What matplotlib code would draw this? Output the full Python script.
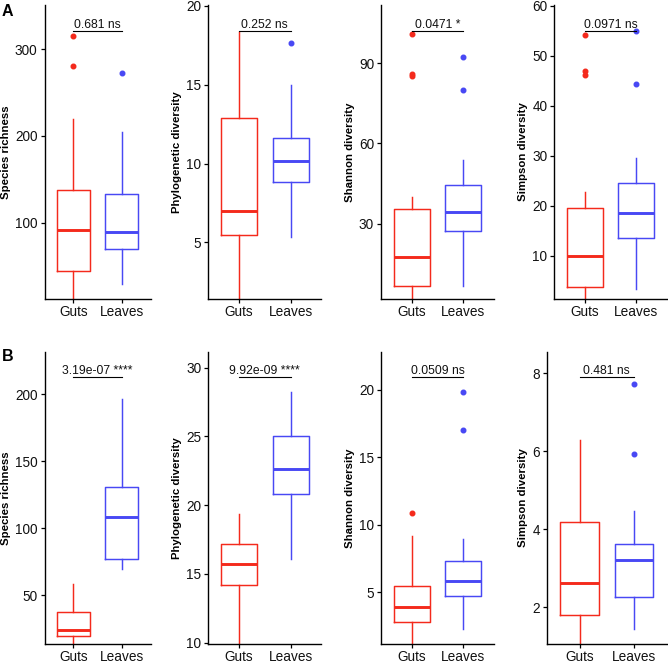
import matplotlib
matplotlib.use("Agg")
import matplotlib.pyplot as plt

plt.rcParams['font.family'] = ['Liberation Sans', 'DejaVu Sans']

# ---------------- data ----------------
metrics = ["Species richness", "Phylogenetic diversity", "Shannon diversity", "Simpson diversity"]
groups = ["Guts", "Leaves"]

# five-number summaries: [whisker low, q1, median, q3, whisker high]
a_guts = [[5, 45, 92, 138, 219],
          [1.0, 5.48, 6.98, 12.9, 18.34],
          [1.0, 6.7, 17.65, 35.4, 40.1],
          [1.0, 3.8, 9.9, 19.6, 22.7]]
a_guts_out = [[315, 281], [], [101.1, 85.9, 85.4], [54.2, 47.0, 46.1]]
a_leaves = [[30, 70, 90, 133, 204.6],
            [5.32, 8.82, 10.19, 11.6, 14.98],
            [6.8, 27.4, 34.5, 44.4, 53.8],
            [3.3, 13.6, 18.5, 24.5, 29.5]]
a_leaves_out = [[272.8], [17.68], [92.2, 80.0], [54.9, 44.4]]
a_pvals = ["0.681 ns", "0.252 ns", "0.0471 *", "0.0971 ns"]
a_bracket = [320.7, 18.42, 102.1, 54.9]

b_guts = [[5, 19.6, 23.8, 37.5, 58],
          [8, 14.2, 15.7, 17.2, 19.35],
          [0.5, 2.8, 3.9, 5.48, 9.13],
          [0.5, 1.79, 2.62, 4.18, 6.29]]
b_guts_out = [[], [], [10.9], []]
b_leaves = [[69.2, 77, 108, 131, 196.3],
            [16.1, 20.84, 22.6, 25.05, 28.2],
            [2.3, 4.75, 5.87, 7.3, 8.96],
            [1.45, 2.26, 3.21, 3.62, 4.47]]
b_leaves_out = [[], [], [19.83, 17.04], [7.72, 5.93]]
b_pvals = ["3.19e-07 ****", "9.92e-09 ****", "0.0509 ns", "0.481 ns"]
b_bracket = [212.7, 29.3, 20.9, 7.9]

a_ticks = [[100, 200, 300], [5, 10, 15, 20], [30, 60, 90], [10, 20, 30, 40, 50, 60]]
b_ticks = [[50, 100, 150, 200], [10, 15, 20, 25, 30], [5, 10, 15, 20], [2, 4, 6, 8]]

# ---------------- layout ----------------
W, H = 668, 663
a_lims = [(12.6, 350.6), (1.41, 20.06), (1.8, 111.8), (1.32, 60.2)]
b_lims = [(13.2, 231.8), (9.88, 31.16), (1.15, 22.8), (1.05, 8.55)]
a_x = [(44.5, 150.5), (208.3, 321.4), (381, 494), (554.3, 667)]
b_x = [(44.5, 150.5), (208.3, 321.4), (381, 494), (546.7, 667)]
a_y = (5, 299)
b_y = (351.7, 644.3)
label_x = [6, 177, 350, 523]

RED = "#F42A1C"
BLUE = "#4848F4"
cols = [RED, BLUE]

fig = plt.figure(figsize=(W / 100, H / 100), dpi=100)


def panel(xr, yr, lim, ticks, guts, guts_out, leaves, leaves_out, pval, by, ylabel, lx):
    x0, x1 = xr
    y0, y1 = yr
    ax = fig.add_axes([x0 / W, 1 - y1 / H, (x1 - x0) / W, (y1 - y0) / H])
    stats = []
    for g, s, out in zip(groups, [guts, leaves], [guts_out, leaves_out]):
        stats.append(dict(label=g, whislo=s[0], q1=s[1], med=s[2], q3=s[3], whishi=s[4], fliers=out))
    res = ax.bxp(stats, positions=[1, 2], widths=0.7, showcaps=False, showfliers=True,
                 manage_ticks=False)
    for i, c in enumerate(cols):
        res['boxes'][i].set_color(c)
        res['boxes'][i].set_linewidth(1.05)
        res['medians'][i].set_color(c)
        res['medians'][i].set_linewidth(2.1)
        for w in res['whiskers'][2 * i:2 * i + 2]:
            w.set_color(c)
            w.set_linewidth(1.05)
        f = res['fliers'][i]
        f.set_marker('o')
        f.set_markerfacecolor(c)
        f.set_markeredgecolor(c)
        f.set_markersize(3.3)
    ax.set_xlim(0.4, 2.6)
    ax.set_ylim(*lim)
    ax.set_yticks(ticks)
    ax.set_xticks([1, 2])
    ax.set_xticklabels(groups)
    for sp in ['top', 'right']:
        ax.spines[sp].set_visible(False)
    for sp in ['left', 'bottom']:
        ax.spines[sp].set_linewidth(1.0)
        ax.spines[sp].set_color('black')
    ax.tick_params(axis='both', length=3, width=0.9, color='black', labelsize=9.8,
                   labelcolor='#111111', pad=2)
    ax.tick_params(axis='x', pad=1.2)
    ax.set_ylabel(ylabel, fontsize=8.2, fontweight='bold', va='center')
    ax.yaxis.set_label_coords((lx - x0) / (x1 - x0), 0.5)
    ax.plot([1, 2], [by, by], color='black', lw=0.8, clip_on=False)
    ax.text(1.5, by, pval, ha='center', va='bottom', fontsize=8.7, color='#111111')
    ax.patch.set_alpha(0)
    return ax


for i in range(4):
    panel(a_x[i], a_y, a_lims[i], a_ticks[i], a_guts[i], a_guts_out[i], a_leaves[i],
          a_leaves_out[i], a_pvals[i], a_bracket[i], metrics[i], label_x[i])
    panel(b_x[i], b_y, b_lims[i], b_ticks[i], b_guts[i], b_guts_out[i], b_leaves[i],
          b_leaves_out[i], b_pvals[i], b_bracket[i], metrics[i], label_x[i])

fig.text(1.5 / W, 1 - 4 / H, "A", fontsize=11.5, fontweight='bold', va='top', ha='left')
fig.text(1.5 / W, 1 - 349 / H, "B", fontsize=11.5, fontweight='bold', va='top', ha='left')

fig.savefig("out.png", dpi=100)
